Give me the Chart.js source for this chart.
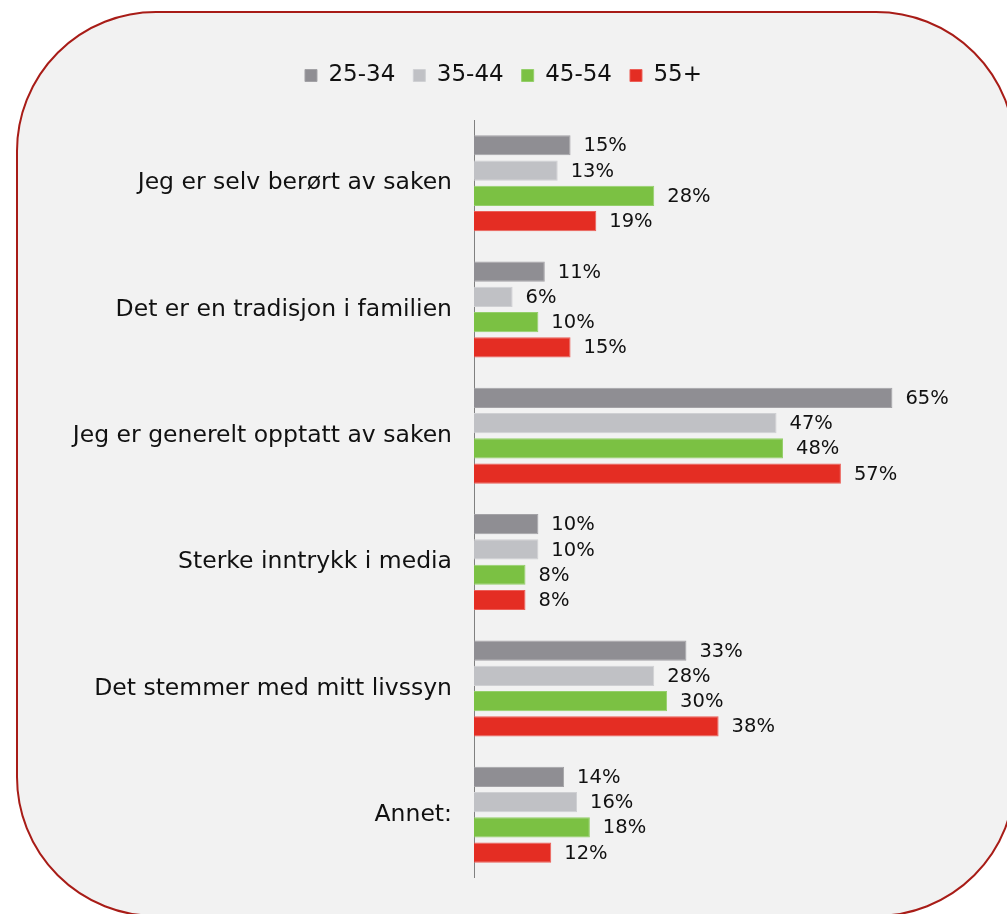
<!DOCTYPE html>
<html>
<head>
<meta charset="utf-8">
<script src="https://cdn.jsdelivr.net/npm/chart.js@4.4.0/dist/chart.umd.min.js"></script>
<style>
  html, body { margin: 0; padding: 0; background: #ffffff; width: 1007px; height: 914px; overflow: hidden; }
  #frame { position: absolute; left: 16px; top: 11px; width: 996px; height: 902px;
           border: 2px solid #a81c17; border-radius: 140px; background: #f2f2f2; }
  #c { position: absolute; left: 0; top: 0; }
</style>
</head>
<body>
<div id="frame"></div>
<canvas id="c" width="1007" height="914"></canvas>
<script>
const categories = [
  'Jeg er selv berørt av saken',
  'Det er en tradisjon i familien',
  'Jeg er generelt opptatt av saken',
  'Sterke inntrykk i media',
  'Det stemmer med mitt livssyn',
  'Annet:'
];
const seriesNames = ['25-34', '35-44', '45-54', '55+'];
const values2534 = [15, 11, 65, 10, 33, 14];
const values3544 = [13, 6, 47, 10, 28, 16];
const values4554 = [28, 10, 48, 8, 30, 18];
const values55 = [19, 15, 57, 8, 38, 12];
const seriesColors = ['#8f8e93', '#c0c1c5', '#7bc143', '#e42d23'];
const seriesBorders = ['#a3a2a6', '#cfd0d3', '#94cf6a', '#ec5f58'];

const allValues = [values2534, values3544, values4554, values55];
const FONT = '"DejaVu Sans", Verdana, sans-serif';

const labelPlugin = {
  id: 'barValueLabels',
  afterDatasetsDraw(chart) {
    const ctx = chart.ctx;
    ctx.save();
    ctx.font = '19.5px ' + FONT;
    ctx.fillStyle = '#111111';
    ctx.textBaseline = 'middle';
    ctx.textAlign = 'left';
    chart.data.datasets.forEach((ds, di) => {
      const meta = chart.getDatasetMeta(di);
      meta.data.forEach((bar, i) => {
        ctx.fillText(ds.data[i] + '%', bar.x + 13, bar.y + 1);
      });
    });
    ctx.restore();
  }
};

const legendSpacer = {
  id: 'legendSpacer',
  beforeInit(chart) {
    const origFit = chart.legend.fit;
    chart.legend.fit = function fit() {
      origFit.bind(chart.legend)();
      this.height += 23;
    };
  }
};

new Chart(document.getElementById('c'), {
  type: 'bar',
  data: {
    labels: categories,
    datasets: seriesNames.map((name, i) => ({
      label: name,
      data: allValues[i],
      backgroundColor: seriesColors[i],
      borderColor: seriesBorders[i],
      borderWidth: 1,
      barPercentage: 0.8,
      categoryPercentage: 0.8
    }))
  },
  options: {
    indexAxis: 'y',
    responsive: false,
    animation: false,
    layout: { padding: { top: 46, bottom: 35, left: 0, right: 0 } },
    plugins: {
      legend: {
        position: 'top',
        labels: {
          boxWidth: 12,
          boxHeight: 12,
          color: '#111111',
          font: { family: FONT, size: 23 },
          padding: 18
        }
      },
      tooltip: { enabled: false }
    },
    scales: {
      x: {
        display: false,
        min: 0,
        max: 82.8
      },
      y: {
        grid: { display: false, drawTicks: false },
        border: { display: true, color: '#808080', width: 1 },
        ticks: {
          color: '#111111',
          font: { family: FONT, size: 23.5 },
          padding: 22
        },
        afterFit(scale) { scale.width = 474; }
      }
    }
  },
  plugins: [labelPlugin, legendSpacer]
});
</script>
</body>
</html>
